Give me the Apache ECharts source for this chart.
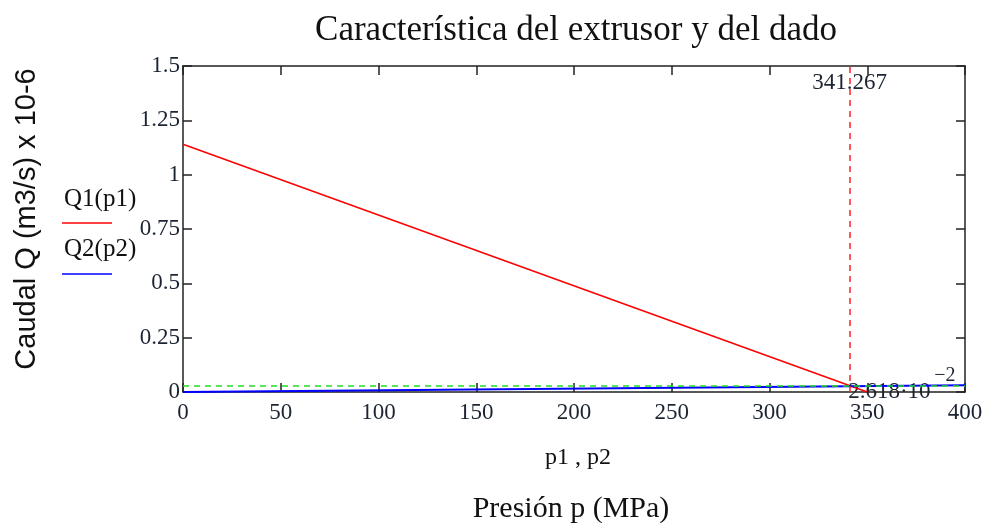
<!DOCTYPE html>
<html><head><meta charset="utf-8">
<script src="https://cdn.jsdelivr.net/npm/echarts@6/dist/echarts.min.js"></script>
<style>html,body{margin:0;padding:0;background:#fff}#c{width:990px;height:526px}</style>
</head><body><div id="c"></div>
<script>
const q1P = [0, 350];
const q1Q = [1.14, 0];
const q2P = [0, 400];
const q2Q = [0, 0.0307];
const crossP = 341.267;
const crossQ = 0.02618;
const xTicks = [0, 50, 100, 150, 200, 250, 300, 350, 400];
const yTicks = [0, 0.25, 0.5, 0.75, 1, 1.25, 1.5];

const serif = '"Liberation Serif", "DejaVu Serif", serif';
const sans = '"Liberation Sans", Arial, sans-serif';
const tickColor = '#1c2433';
const chart = echarts.init(document.getElementById('c'));
const axisLineStyle = {color: '#222', width: 1.5};
function xAx(pos, showLabel) {
  return {type: 'value', position: pos, min: 0, max: 400, interval: 50,
    axisLine: {show: true, onZero: false, lineStyle: axisLineStyle},
    axisTick: {show: true, inside: true, length: 9, lineStyle: {color: '#222', width: 1.5}},
    axisLabel: {show: showLabel, color: tickColor, fontFamily: serif, fontSize: 23, margin: 9,
      formatter: v => String(v)},
    splitLine: {show: false}};
}
function yAx(pos, showLabel) {
  return {type: 'value', position: pos, min: 0, max: 1.5, interval: 0.25,
    axisLine: {show: true, onZero: false, lineStyle: axisLineStyle},
    axisTick: {show: true, inside: true, length: 9, lineStyle: {color: '#222', width: 1.5}},
    axisLabel: {show: showLabel, color: tickColor, fontFamily: serif, fontSize: 23, margin: 3,
      formatter: v => String(v)},
    splitLine: {show: false}};
}
chart.setOption({
  animation: false,
  backgroundColor: '#fff',
  title: {text: 'Característica del extrusor y del dado', left: 571, textAlign: 'center', top: 8,
    textStyle: {fontFamily: serif, fontWeight: 'normal', fontSize: 35, color: '#111'}},
  grid: {left: 183, right: 25, top: 66, bottom: 134},
  xAxis: [xAx('bottom', true), xAx('top', false)],
  yAxis: [yAx('left', true), yAx('right', false)],
  series: [
    {type: 'line', name: 'Q1(p1)', data: q1P.map((p, i) => [p, q1Q[i]]), symbol: 'none',
      lineStyle: {color: '#ff0000', width: 1.5}, z: 3},
    {type: 'line', name: 'Q2(p2)', data: q2P.map((p, i) => [p, q2Q[i]]), symbol: 'none',
      lineStyle: {color: '#0000ff', width: 2}, z: 3,
      markLine: {silent: true, symbol: 'none', label: {show: false},
        data: [
          {yAxis: crossQ, lineStyle: {color: '#22dd22', type: [6, 5], width: 1.5}},
          {xAxis: crossP, lineStyle: {color: '#ff2020', type: [6, 5], width: 1.5}}
        ]}}
  ]
});

const ptTop = chart.convertToPixel({xAxisIndex: 0, yAxisIndex: 0}, [crossP, 1.5]);
const ptBot = chart.convertToPixel({xAxisIndex: 0, yAxisIndex: 0}, [crossP, 0]);
chart.setOption({
  graphic: [
    {type: 'text', x: ptTop[0] - 38, y: ptTop[1] + 5,
      style: {text: crossP.toFixed(3), font: '23px ' + serif, fill: tickColor}},
    {type: 'text', x: ptBot[0] - 2, y: ptBot[1] - 12,
      style: {text: '2.618·10', font: '23px ' + serif, fill: tickColor}},
    {type: 'text', x: ptBot[0] + 84, y: ptBot[1] - 26, z: 10,
      style: {text: '−2', font: '20px ' + serif, fill: tickColor}},
    {type: 'text', x: 578, y: 446, style: {text: 'p1 , p2', font: '24px ' + serif, fill: '#111', align: 'center'}},
    {type: 'text', x: 571, y: 494, style: {text: 'Presión p (MPa)', font: '30px ' + serif, fill: '#111', align: 'center'}},
    {type: 'text', x: 12, y: 219, rotation: Math.PI / 2,
      style: {text: 'Caudal Q (m3/s) x 10-6', font: '29px ' + sans, fill: '#111', align: 'center', verticalAlign: 'top'}},
    {type: 'text', x: 64, y: 187, style: {text: 'Q1(p1)', font: '25px ' + serif, fill: '#111'}},
    {type: 'line', shape: {x1: 62, y1: 223, x2: 112, y2: 223}, style: {stroke: '#ff0000', lineWidth: 1.5}},
    {type: 'text', x: 64, y: 237, style: {text: 'Q2(p2)', font: '25px ' + serif, fill: '#111'}},
    {type: 'line', shape: {x1: 62, y1: 274, x2: 112, y2: 274}, style: {stroke: '#0000ff', lineWidth: 1.5}}
  ]
});
</script>
</body></html>
